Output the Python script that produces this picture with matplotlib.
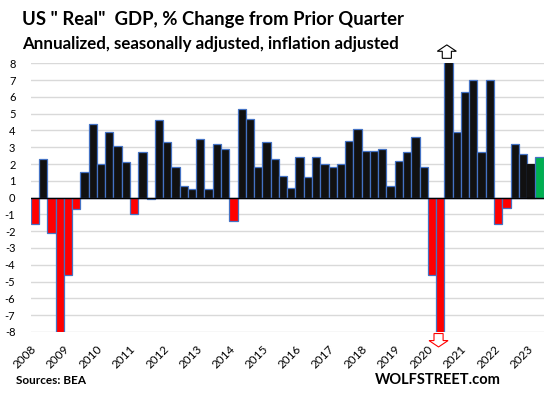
import matplotlib
matplotlib.use("Agg")
import matplotlib.pyplot as plt
from matplotlib.patches import FancyArrow

# quarterly real GDP growth, annualized %, 2008Q1 .. 2023Q2
quarters = [f"{y}Q{q}" for y in range(2008, 2024) for q in range(1, 5)][:62]
gdp = [
    -1.6, 2.3, -2.1, -8.5,        # 2008
    -4.6, -0.7, 1.5, 4.4,         # 2009
    2.0, 3.9, 3.1, 2.1,           # 2010
    -1.0, 2.7, -0.1, 4.6,         # 2011
    3.3, 1.8, 0.7, 0.5,           # 2012
    3.5, 0.5, 3.2, 2.9,           # 2013
    -1.4, 5.3, 4.7, 1.8,          # 2014
    3.3, 2.3, 1.3, 0.6,           # 2015
    2.4, 1.2, 2.4, 2.0,           # 2016
    1.8, 2.0, 3.4, 4.1,           # 2017
    2.8, 2.8, 2.9, 0.7,           # 2018
    2.2, 2.7, 3.6, 1.8,           # 2019
    -4.6, -29.9, 35.3, 3.9,       # 2020
    6.3, 7.0, 2.7, 7.0,           # 2021
    -1.6, -0.6, 3.2, 2.6,         # 2022
    2.0, 2.4,                     # 2023
]
year_labels = [str(y) for y in range(2008, 2024)]
y_ticks = list(range(-8, 9))

RED   = "#FF0000"
BLACK = "#111111"
GREEN = "#00B050"
EDGE  = "#4472C4"

fig = plt.figure(figsize=(5.48, 3.96), dpi=100)
ax = fig.add_axes([0.056, 0.162, 0.936, 0.678])

colors = [RED if v < 0 else BLACK for v in gdp]
colors[-1] = GREEN
edges = [EDGE] * len(gdp)
edges[-2] = BLACK

x = list(range(len(gdp)))
ax.bar(x, gdp, width=1.0, color=colors, edgecolor=edges, linewidth=0.9, zorder=3)

ax.set_xlim(-0.5, len(gdp) - 0.5)
ax.set_ylim(-8, 8)
ax.set_yticks(y_ticks)
ax.set_yticklabels([str(t) for t in y_ticks], fontsize=8, family="Lato")
ax.tick_params(axis="y", length=0, pad=11)
ax.grid(axis="y", color="#D9D9D9", linewidth=1.0, zorder=0)
ax.axhline(0, color="black", linewidth=1.0, zorder=4)

ax.set_xticks([4 * i - 0.5 for i in range(len(year_labels))])
ax.set_xticklabels(year_labels, rotation=45, ha="right", rotation_mode="anchor",
                   fontsize=8.5, family="Lato")
ax.tick_params(axis="x", length=0, pad=8)

for s in ax.spines.values():
    s.set_visible(False)

# off-scale arrows for 2020Q2 / 2020Q3
i_dn = quarters.index("2020Q2")
i_up = quarters.index("2020Q3")
ax.add_patch(FancyArrow(i_up - 0.2, 8.3, 0, 0.8, width=1.1, head_width=2.3,
                        head_length=0.38, length_includes_head=True,
                        fc="white", ec="black", lw=0.8, clip_on=False, zorder=5))
ax.add_patch(FancyArrow(i_dn - 0.2, -8.1, 0, -0.8, width=1.1, head_width=2.3,
                        head_length=0.38, length_includes_head=True,
                        fc="white", ec=RED, lw=0.8, clip_on=False, zorder=5))

fig.text(0.040, 0.950, 'US " Real"  GDP, % Change from Prior Quarter',
         fontsize=13.3, fontweight="bold", family="Lato", va="center")
fig.text(0.040, 0.889, "Annualized, seasonally adjusted, inflation adjusted",
         fontsize=12.2, fontweight="bold", family="Lato", va="center")
fig.text(0.029, 0.040, "Sources: BEA", fontsize=8.5, fontweight="bold",
         family="Lato", va="center")
fig.text(0.684, 0.040, "WOLFSTREET.com", fontsize=10.5, fontweight="bold",
         family="Lato", va="center")

fig.savefig("out.png", dpi=100)
